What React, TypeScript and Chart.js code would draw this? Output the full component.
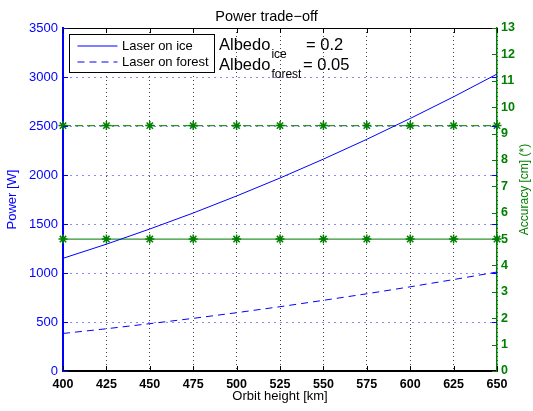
import React, { useEffect, useRef } from 'react';
import { Chart, registerables } from 'chart.js';

Chart.register(...registerables);

// ---- data ----
const orbitHeights = [400, 425, 450, 475, 500, 525, 550, 575, 600, 625, 650];
const powerIce = [1150, 1294, 1449, 1612, 1786, 1969, 2162, 2364, 2577, 2798, 3030];
const powerForest = [383, 431, 483, 537, 595, 656, 721, 788, 859, 933, 1010];
const accuracyIce = [5, 5, 5, 5, 5, 5, 5, 5, 5, 5, 5];
const accuracyForest = [9.3, 9.3, 9.3, 9.3, 9.3, 9.3, 9.3, 9.3, 9.3, 9.3, 9.3];
const powerRange = [0, 3500];
const powerStep = 500;
const accuracyRange = [0, 13];
const accuracyStep = 1;
const heightRange = [400, 650];
const heightStep = 25;
const legendLabels = ['Laser on ice', 'Laser on forest'];
const albedoLabels = ['ice', 'forest'];
const albedoValues = ['0.2', '0.05'];
const chartTitle = 'Power trade\u2212off';
const xTitle = 'Orbit height [km]';
const yTitle = 'Power [W]';
const y2Title = 'Accuracy [cm] (*)';

const FONT = "'Liberation Sans', Arial, Helvetica, sans-serif";
const BLUE = '#0000ff';
const GREEN = '#008000';
const GREEN_LINE = '#2f932f';

const overlay = {
  id: 'overlay',
  afterDraw(chart: any) {
    const { ctx, chartArea: a, scales } = chart;
    const x = scales.x, y = scales.y, y2 = scales.y2;
    const line = (x1: number, y1: number, x2: number, y2p: number) => {
      ctx.beginPath();
      ctx.moveTo(x1, y1);
      ctx.lineTo(x2, y2p);
      ctx.stroke();
    };
    ctx.save();
    // top frame
    ctx.strokeStyle = '#000';
    ctx.lineWidth = 1;
    line(a.left, Math.round(a.top) + 0.5, a.right, Math.round(a.top) + 0.5);
    const TL = 5;
    // x ticks inward (bottom and top)
    x.ticks.forEach((t: any) => {
      const px = Math.round(x.getPixelForValue(t.value)) + 0.5;
      line(px, a.bottom, px, a.bottom - TL);
      line(px, a.top, px, a.top + TL);
    });
    // left y ticks inward, mirrored on right
    ctx.strokeStyle = BLUE;
    y.ticks.forEach((t: any) => {
      const py = Math.round(y.getPixelForValue(t.value)) + 0.5;
      line(a.left, py, a.left + TL, py);
      line(a.right, py, a.right - TL, py);
    });
    // right y ticks inward
    ctx.strokeStyle = GREEN;
    y2.ticks.forEach((t: any) => {
      const py = Math.round(y2.getPixelForValue(t.value)) + 0.5;
      line(a.right, py, a.right - TL, py);
    });

    // legend box
    const bx = Math.round(a.left + 6) + 0.5;
    const by = Math.round(a.top + 6) + 0.5;
    const bw = 145;
    const bh = 38;
    ctx.fillStyle = '#fff';
    ctx.fillRect(bx, by, bw, bh);
    ctx.strokeStyle = '#000';
    ctx.lineWidth = 1;
    ctx.strokeRect(bx, by, bw, bh);
    const rows = [by + 11.5, by + 27.5];
    ctx.strokeStyle = BLUE;
    line(bx + 8, rows[0], bx + 48, rows[0]);
    ctx.setLineDash([7, 5]);
    line(bx + 8, rows[1], bx + 48, rows[1]);
    ctx.setLineDash([]);
    ctx.fillStyle = '#000';
    ctx.font = `13px ${FONT}`;
    ctx.textAlign = 'left';
    ctx.textBaseline = 'middle';
    legendLabels.forEach((l, i) => ctx.fillText(l, bx + 52.5, rows[i] + 0.5));

    // Albedo annotations
    ctx.textBaseline = 'alphabetic';
    const baseX = a.left + 156;
    const baselines = [a.top + 22, a.top + 42];
    const eqX = [a.left + 243, a.left + 240];
    albedoLabels.forEach((sub, i) => {
      ctx.font = `16.5px ${FONT}`;
      ctx.fillText('Albedo', baseX, baselines[i]);
      const w = ctx.measureText('Albedo').width;
      ctx.font = `12px ${FONT}`;
      ctx.fillText(sub, baseX + w + 1, baselines[i] + 8);
      ctx.font = `16.5px ${FONT}`;
      ctx.fillText('= ' + albedoValues[i], eqX[i], baselines[i]);
    });

    // right axis title (reads bottom-to-top)
    ctx.save();
    ctx.translate(525, (a.top + a.bottom) / 2 - 10);
    ctx.rotate(-Math.PI / 2);
    ctx.font = `12px ${FONT}`;
    ctx.fillStyle = GREEN;
    ctx.textAlign = 'center';
    ctx.textBaseline = 'middle';
    ctx.fillText(y2Title, 0, 0);
    ctx.restore();

    ctx.restore();
  },
};

export default function App() {
  const ref = useRef<HTMLCanvasElement | null>(null);
  useEffect(() => {
    document.body.style.margin = '0';
    const canvas = ref.current;
    if (!canvas) return;
    Chart.defaults.font.family = FONT;
    const pts = (vals: number[]) => orbitHeights.map((h, i) => ({ x: h, y: vals[i] }));
    const plain = (v: any) => String(v);
    const chart = new Chart(canvas, {
      type: 'line',
      data: {
        datasets: [
          {
            label: legendLabels[0],
            data: pts(powerIce),
            yAxisID: 'y',
            borderColor: BLUE,
            borderWidth: 1,
            pointRadius: 0,
            tension: 0,
          },
          {
            label: legendLabels[1],
            data: pts(powerForest),
            yAxisID: 'y',
            borderColor: BLUE,
            borderWidth: 1,
            borderDash: [7, 5],
            pointRadius: 0,
            tension: 0,
          },
          {
            label: 'accuracy ice',
            data: pts(accuracyIce),
            yAxisID: 'y2',
            borderColor: GREEN_LINE,
            borderWidth: 1.4,
            pointStyle: 'star',
            pointRadius: 4.5,
            pointBorderColor: GREEN,
            pointBorderWidth: 1.5,
            pointBackgroundColor: GREEN,
            clip: false,
          },
          {
            label: 'accuracy forest',
            data: pts(accuracyForest),
            yAxisID: 'y2',
            borderColor: GREEN_LINE,
            borderWidth: 1.4,
            borderDash: [8, 4],
            pointStyle: 'star',
            pointRadius: 4.5,
            pointBorderColor: GREEN,
            pointBorderWidth: 1.5,
            pointBackgroundColor: GREEN,
            clip: false,
          },
        ],
      },
      options: {
        animation: false,
        responsive: false,
        layout: { padding: 0 },
        plugins: {
          legend: { display: false },
          tooltip: { enabled: false },
          title: {
            display: true,
            text: chartTitle,
            color: '#000',
            font: { size: 14.5, weight: 'normal' as any, family: FONT },
            padding: { top: 8, bottom: 2.6 },
          },
        },
        scales: {
          x: {
            type: 'linear',
            min: heightRange[0],
            max: heightRange[1],
            afterFit: (s: any) => { s.height = 40; },
            ticks: {
              stepSize: heightStep,
              color: '#000',
              padding: 6,
              font: { size: 12.5, weight: 'bold' as any, family: FONT },
              maxRotation: 0,
              callback: plain,
            },
            grid: {
              drawTicks: false,
              color: '#444',
              lineWidth: 1,
            },
            border: { display: true, color: '#000', width: 2, dash: [1, 3] },
            title: {
              display: true,
              text: xTitle,
              color: '#000',
              font: { size: 13, family: FONT },
              padding: { top: 0, bottom: 7 },
            },
          },
          y: {
            type: 'linear',
            position: 'left',
            min: powerRange[0],
            max: powerRange[1],
            afterFit: (s: any) => { s.width = 63; },
            ticks: {
              stepSize: powerStep,
              color: BLUE,
              padding: 5,
              font: { size: 13, family: FONT },
              callback: plain,
            },
            grid: {
              drawTicks: false,
              color: 'rgba(60,60,255,0.6)',
              lineWidth: 1,
            },
            border: { display: true, color: BLUE, width: 2, dash: [2, 4] },
            title: {
              display: true,
              text: yTitle,
              color: BLUE,
              font: { size: 13, family: FONT },
              padding: { top: 5, bottom: 0 },
            },
          },
          y2: {
            type: 'linear',
            position: 'right',
            min: accuracyRange[0],
            max: accuracyRange[1],
            afterFit: (s: any) => { s.width = 36; },
            ticks: {
              stepSize: accuracyStep,
              color: GREEN,
              padding: 4,
              font: { size: 12.5, weight: 'bold' as any, family: FONT },
              callback: plain,
            },
            grid: { drawTicks: false, drawOnChartArea: false },
            border: { display: true, color: GREEN, width: 1.5 },
          },
        },
      },
      plugins: [overlay],
    });
    return () => chart.destroy();
  }, []);
  return (
    <div style={{ width: 533, height: 411 }}>
      <canvas ref={ref} width={533} height={411} style={{ display: 'block' }} />
    </div>
  );
}
